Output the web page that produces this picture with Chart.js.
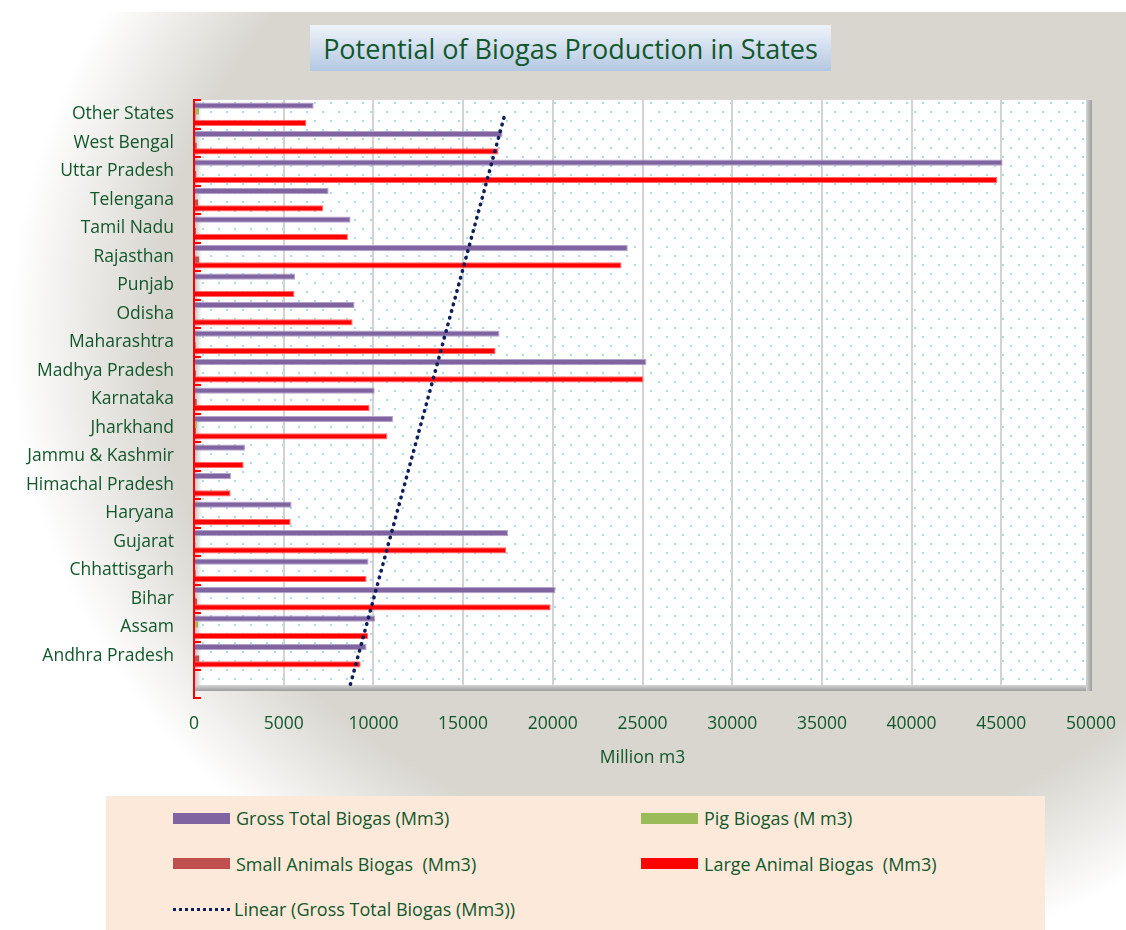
<!DOCTYPE html>
<html>
<head>
<meta charset="utf-8">
<title>Potential of Biogas Production in States</title>
<script src="https://cdn.jsdelivr.net/npm/chart.js@4.4.1/dist/chart.umd.min.js"></script>
<style>
  html, body { margin: 0; padding: 0; background: #fff; }
  body { width: 1126px; height: 930px; position: relative; overflow: hidden; font-family: 'Open Sans', sans-serif; }
  #bg { position: absolute; left: 10px; top: 12px; width: 1116px; height: 918px;
        background: radial-gradient(ellipse 725px 650px at 725px 321px, #d8d6cf 0%, #d8d6cf 80%, #ffffff 100%); }
  #chartBox { position: absolute; left: 0; top: 0; width: 1126px; height: 790px; }
  #title { position: absolute; left: 310px; top: 25px; width: 521px; height: 46px; box-sizing: border-box;
           padding-top: 1px; background: linear-gradient(#eef3fa, #b4c8e2); color: #12572b;
           font-size: 27px; line-height: 45px; text-align: center; white-space: nowrap; }
  #legend { position: absolute; left: 106px; top: 796px; width: 939px; height: 134px; background: #fde9da; }
  .item { position: absolute; display: flex; align-items: center; height: 20px; font-size: 18px;
          color: #12572b; white-space: pre; }
  .sw { display: inline-block; width: 57px; height: 11px; margin-right: 6px; }
  .sw.dots { height: 0; border-top: 3px dotted #0e1e5b; margin-right: 4px; }
</style>
</head>
<body>
<div id="bg"></div>
<div id="chartBox"><canvas id="chart"></canvas></div>
<div id="title">Potential of Biogas Production in States</div>
<div id="legend"></div>
<script>
// categories, listed bottom to top as in the picture
const states = [
  'Andhra Pradesh', 'Assam', 'Bihar', 'Chhattisgarh', 'Gujarat', 'Haryana',
  'Himachal Pradesh', 'Jammu & Kashmir', 'Jharkhand', 'Karnataka', 'Madhya Pradesh',
  'Maharashtra', 'Odisha', 'Punjab', 'Rajasthan', 'Tamil Nadu', 'Telengana',
  'Uttar Pradesh', 'West Bengal', 'Other States'
];

// Million m3
const grossTotal   = [9620, 10100, 20150, 9730, 17500, 5440, 2060, 2840, 11090, 10070,
                      25220, 17030, 8950, 5630, 24180, 8730, 7505, 45070, 17200, 6670];
const pigBiogas    = [40, 230, 60, 30, 20, 10, 5, 10, 160, 30,
                      30, 40, 50, 20, 30, 20, 30, 60, 90, 280];
const smallAnimals = [290, 60, 170, 90, 60, 40, 30, 60, 110, 150,
                      110, 90, 60, 60, 290, 110, 230, 120, 150, 80];
const largeAnimal  = [9290, 9715, 19880, 9620, 17400, 5390, 2040, 2770, 10770, 9790,
                      25050, 16810, 8840, 5600, 23830, 8580, 7190, 44780, 16975, 6260];

// dotted linear trend of gross total: value one slot below the first state, and at the last state
const trendEnds = [8720, 17330];
const trendLabel = 'Linear (Gross Total Biogas (Mm3))';
const trendColor = '#0e1e5b';

const xMax = 50000;
const xStep = 5000;

const TEXT = '#12572b';
const FLOOR = 20;   // empty strip under the last category, as in the picture

Chart.defaults.font.family = "'Open Sans', sans-serif";
Chart.defaults.font.size = 17.5;
Chart.defaults.color = TEXT;

function dotPattern(ctx) {
  const c = document.createElement('canvas');
  c.width = 16; c.height = 18;
  const g = c.getContext('2d');
  g.fillStyle = '#ffffff';
  g.fillRect(0, 0, 16, 18);
  g.fillStyle = '#a9dcec';
  g.fillRect(2, 3, 2, 2);
  g.fillRect(10, 12, 2, 2);
  return ctx.createPattern(c, 'repeat');
}

// plot wall: dotted fill, grid, bevelled edges, red category axis, trend line
const plotFrame = {
  id: 'plotFrame',
  beforeDatasetsDraw(chart) {
    const { ctx, chartArea: a, scales } = chart;
    const bottom = a.bottom + FLOOR;
    ctx.save();
    ctx.fillStyle = dotPattern(ctx);
    ctx.fillRect(a.left, a.top, a.right - a.left, bottom - a.top);

    const gl = ctx.createLinearGradient(a.left, 0, a.left + 8, 0);
    gl.addColorStop(0, 'rgba(140,140,140,0.55)');
    gl.addColorStop(1, 'rgba(140,140,140,0)');
    ctx.fillStyle = gl;
    ctx.fillRect(a.left, a.top, 8, bottom - a.top);

    ctx.strokeStyle = '#d3d3d3';
    ctx.lineWidth = 2;
    scales.x.ticks.forEach(t => {
      if (t.value <= 0 || t.value >= xMax) return;
      const px = Math.round(scales.x.getPixelForValue(t.value));
      ctx.beginPath();
      ctx.moveTo(px, a.top);
      ctx.lineTo(px, bottom);
      ctx.stroke();
    });

    const gb = ctx.createLinearGradient(0, bottom - 5, 0, bottom + 1);
    gb.addColorStop(0, '#d6d6d6');
    gb.addColorStop(1, '#9c9c9c');
    ctx.fillStyle = gb;
    ctx.fillRect(a.left, bottom - 5, a.right - a.left, 6);
    const gr = ctx.createLinearGradient(a.right - 5, 0, a.right + 1, 0);
    gr.addColorStop(0, '#d6d6d6');
    gr.addColorStop(1, '#9c9c9c');
    ctx.fillStyle = gr;
    ctx.fillRect(a.right - 5, a.top, 6, bottom - a.top + 1);
    ctx.fillStyle = '#d9d9d9';
    ctx.fillRect(a.left, a.top - 1, a.right - a.left + 1, 1);
    ctx.restore();
  },
  afterDatasetsDraw(chart) {
    const { ctx, scales: { x, y } } = chart;
    ctx.save();
    ctx.strokeStyle = trendColor;
    ctx.lineWidth = 3.6;
    ctx.lineCap = 'round';
    ctx.setLineDash([0.5, 6.4]);
    ctx.beginPath();
    ctx.moveTo(x.getPixelForValue(trendEnds[0]), y.getPixelForValue(-1));
    ctx.lineTo(x.getPixelForValue(trendEnds[1]), y.getPixelForValue(states.length - 1));
    ctx.stroke();
    ctx.restore();
  },
  afterDraw(chart) {
    const { ctx, chartArea: a, scales: { y } } = chart;
    const end = a.bottom + FLOOR + 8;
    ctx.save();
    ctx.strokeStyle = '#ff0000';
    ctx.lineWidth = 2;
    ctx.beginPath();
    ctx.moveTo(a.left, a.top - 1);
    ctx.lineTo(a.left, end);
    ctx.lineTo(a.left + 7, end);
    for (let i = 0; i <= states.length; i++) {
      const py = Math.round(y.getPixelForValue(i - 0.5));
      ctx.moveTo(a.left, py);
      ctx.lineTo(a.left + 7, py);
    }
    ctx.stroke();
    ctx.restore();
  }
};

const chart = new Chart(document.getElementById('chart'), {
  type: 'bar',
  data: {
    labels: states,
    datasets: [
      {
        label: 'Gross Total Biogas (Mm3)',
        data: grossTotal,
        backgroundColor: '#8064a2',
        borderColor: '#b4a3c9',
        borderWidth: 1
      },
      {
        label: 'Pig Biogas (M m3)',
        data: pigBiogas,
        backgroundColor: '#9bbb59',
        borderWidth: 0
      },
      {
        label: 'Small Animals Biogas  (Mm3)',
        data: smallAnimals,
        backgroundColor: '#c0504d',
        borderWidth: 0
      },
      {
        label: 'Large Animal Biogas  (Mm3)',
        data: largeAnimal,
        backgroundColor: '#ff0000',
        borderColor: '#ff6a6a',
        borderWidth: 1
      }
    ]
  },
  options: {
    indexAxis: 'y',
    responsive: true,
    maintainAspectRatio: false,
    animation: false,
    layout: { padding: { top: 100, right: 35, bottom: 0, left: 0 } },
    categoryPercentage: 0.81,
    barPercentage: 1.08,
    scales: {
      x: {
        type: 'linear',
        min: 0,
        max: xMax,
        grid: { display: false, drawTicks: false },
        border: { display: false },
        ticks: {
          stepSize: xStep,
          padding: 44,
          maxRotation: 0,
          callback: v => String(v)
        },
        title: {
          display: true,
          text: 'Million m3',
          padding: { top: 0, bottom: 21 }
        },
        // the tick padding is only meant to push labels down, not to narrow the plot
        afterFit(scale) {
          scale.height = 120;
          scale.paddingLeft = 0;
          scale.paddingRight = 0;
        }
      },
      y: {
        type: 'category',
        reverse: true,
        grid: { display: false, drawTicks: false },
        border: { display: false },
        ticks: { padding: 20, autoSkip: false },
        afterFit(scale) { scale.width = 194; }
      }
    },
    plugins: {
      legend: { display: false },
      title: { display: false }
    }
  },
  plugins: [plotFrame]
});

// legend in two columns like the original, the trend entry last
const legendEl = document.getElementById('legend');
const entries = chart.data.datasets.map(ds => ({ label: ds.label, color: ds.backgroundColor, dots: false }));
entries.push({ label: trendLabel, color: trendColor, dots: true });
entries.forEach((e, i) => {
  const item = document.createElement('div');
  item.className = 'item';
  item.style.left = (i % 2 ? 535 : 67) + 'px';
  item.style.top = (12 + Math.floor(i / 2) * 45.5) + 'px';
  const sw = document.createElement('span');
  if (e.dots) {
    sw.className = 'sw dots';
  } else {
    sw.className = 'sw';
    sw.style.background = e.color;
  }
  const txt = document.createElement('span');
  txt.textContent = e.label;
  item.appendChild(sw);
  item.appendChild(txt);
  legendEl.appendChild(item);
});
</script>
</body>
</html>
